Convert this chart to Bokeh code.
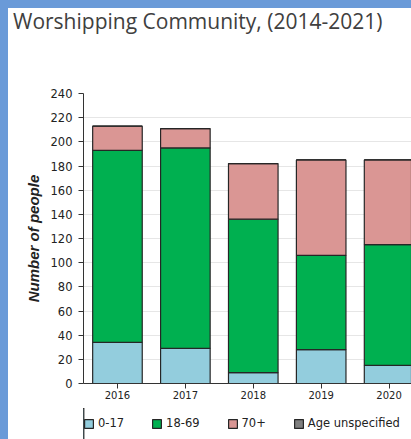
from bokeh.plotting import figure
from bokeh.layouts import column
from bokeh.models import (ColumnDataSource, Range1d, FixedTicker, Legend, Div,
                          GlobalInlineStyleSheet)
from bokeh.embed import file_html
from bokeh.resources import INLINE

# ---- data ----
title_text = "Worshipping Community, (2014-2021)"
years = ["2016", "2017", "2018", "2019", "2020"]
age_0_17 = [34, 29, 9, 28, 15]
age_18_69 = [159, 166, 127, 78, 100]
age_70_plus = [20, 16, 46, 79, 70]
age_unspecified = [0, 0, 0, 0, 0]
series = ["0-17", "18-69", "70+", "Age unspecified"]
colors = ["#93CDDD", "#00B050", "#DA9694", "#7F7F7F"]
y_ticks = list(range(0, 241, 20))

idx = list(range(len(years)))
source = ColumnDataSource(data={
    "x": idx,
    "0-17": age_0_17,
    "18-69": age_18_69,
    "70+": age_70_plus,
    "Age unspecified": age_unspecified,
})

css = GlobalInlineStyleSheet(
    css="html { background: white !important; } "
        "body { background: white !important; margin: 0 !important; "
        "border-top: 8px solid #6A9AD8; border-left: 8px solid #6A9AD8; "
        "box-sizing: border-box; height: auto !important; overflow: hidden; }")

# title block
header = Div(text=title_text, width=403, height=40, margin=(0, 0, 0, 0),
             styles={"background-color": "white", "font-family": "Open Sans",
                     "font-size": "21px", "color": "#404040",
                     "line-height": "26px", "padding-left": "5px",
                     "box-sizing": "border-box", "white-space": "nowrap"},
             stylesheets=[css])

# main chart
p = figure(width=403, height=360, output_backend="svg", toolbar_location=None,
           x_range=Range1d(-0.5, 4.33), y_range=Range1d(0, 240),
           min_border_left=75, min_border_right=0, min_border_top=45,
           min_border_bottom=25, margin=(0, 0, 0, 0))
p.outline_line_color = None
p.background_fill_color = "white"
p.border_fill_color = "white"

p.vbar_stack(series, x="x", width=0.73, source=source,
             fill_color=colors, line_color="#262626", line_width=1.2)

p.xaxis.ticker = FixedTicker(ticks=idx)
p.xaxis.major_label_overrides = {i: y for i, y in zip(idx, years)}
p.yaxis.ticker = FixedTicker(ticks=y_ticks)
for ax in (p.xaxis[0], p.yaxis[0]):
    ax.axis_line_color = "#333333"
    ax.major_tick_line_color = "#333333"
    ax.major_tick_out = 5
    ax.major_tick_in = 0
    ax.minor_tick_line_color = None
    ax.major_label_text_font = "DejaVu Sans"
    ax.major_label_text_color = "#222222"
p.yaxis.major_label_text_font_size = "11.5px"
p.xaxis.major_label_text_font_size = "10px"
p.yaxis.major_label_standoff = 6
p.xaxis.major_label_standoff = 2
p.yaxis.axis_label = "Number of people"
p.yaxis.axis_label_text_font = "Liberation Sans"
p.yaxis.axis_label_text_font_style = "bold italic"
p.yaxis.axis_label_text_font_size = "15px"
p.yaxis.axis_label_text_color = "#222222"
p.yaxis.axis_label_standoff = 6

p.xgrid.visible = False
p.ygrid.grid_line_color = "#E6E6E6"
p.ygrid.grid_line_width = 1

# legend strip (its own small plot; bars lie outside its view)
pl = figure(width=403, height=31, output_backend="svg", toolbar_location=None,
            x_range=Range1d(20, 21), y_range=Range1d(0, 1),
            x_axis_type=None, y_axis_type=None,
            min_border=0, margin=(0, 0, 0, 0))
pl.outline_line_color = None
pl.background_fill_color = "white"
pl.border_fill_color = "white"
leg_renderers = pl.vbar_stack(series, x="x", width=0.73, source=source,
                              fill_color=colors, line_color="#262626",
                              line_width=1.2)
legend = Legend(items=[(s, [r]) for s, r in zip(series, leg_renderers)],
                location=(0, 9), orientation="horizontal",
                glyph_width=11, glyph_height=11, label_height=14,
                label_standoff=4, spacing=27, padding=0, margin=0,
                border_line_color=None, background_fill_alpha=0,
                label_text_font="DejaVu Sans", label_text_font_size="11.5px",
                label_text_color="#222222")
pl.add_layout(legend, "center")

page = column(header, p, pl, spacing=0)
open("out.html", "w").write(file_html(page, INLINE))
